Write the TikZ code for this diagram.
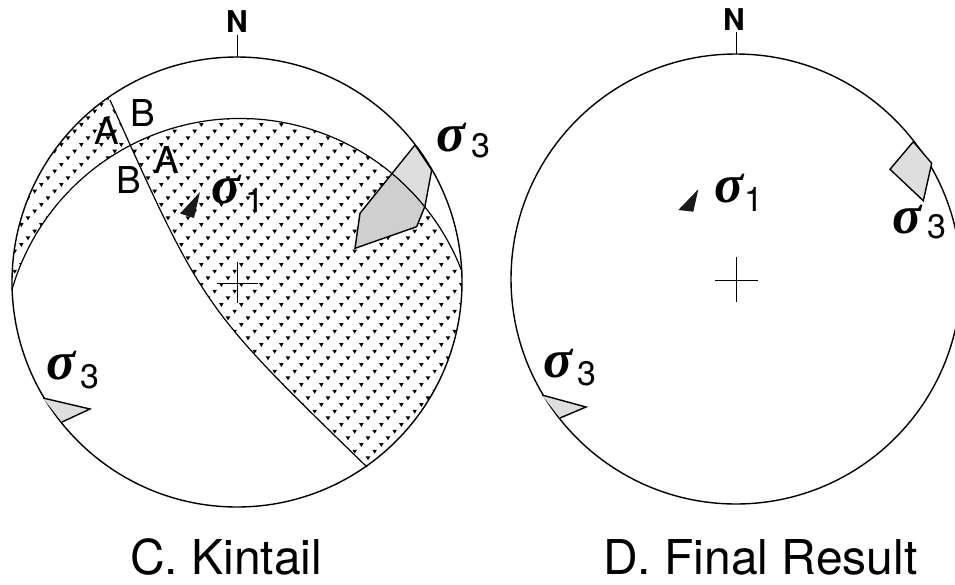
\documentclass[tikz,border=0pt]{standalone}
\usepackage{fontspec}
\setmainfont{TeX Gyre Heros}
\newfontfamily\sigfont{Liberation Serif}
\newcommand\stipplefield{%
 \foreach \j in {0,...,68}{%
  \foreach \i in {0,...,24}{%
   \pgfmathsetmacro\xx{\i*20-mod(\j,3)*6.667+8}%
   \pgfmathsetmacro\yy{58+\j*6.667}%
   \fill[shift={(\xx,\yy)}] (-2.3,-1.6) -- (2.3,-1.6) -- (0,2.3) -- cycle;
  }}}
\tikzset{
 prim/.style={line width=1.4pt},
 gcline/.style={line width=1.2pt},
 thin/.style={line width=0.9pt},
 lab/.style={inner sep=0pt, font=\fontsize{37}{40}\selectfont},
 nlab/.style={inner sep=0pt, font=\fontsize{30}{32}\selectfont\bfseries},
 sig/.style={inner sep=0pt, font=\sigfont\fontsize{54}{58}\selectfont\bfseries\itshape},
 subnum/.style={inner sep=0pt, font=\fontsize{34}{36}\selectfont},
 ttl/.style={inner sep=0pt, anchor=base west, font=\fontsize{48}{52}\selectfont},
 lightfill/.style={fill=black!13},
 midfill/.style={fill=black!19},
 darkfill/.style={fill=black!90},
}
\begin{document}
\begin{tikzpicture}[x=1pt,y=-1pt]
\useasboundingbox (0,0) rectangle (955,584);
\fill[white] (0,0) rectangle (955,584);
% ---------------- left net ----------------
\coordinate (cL) at (237,282);
\coordinate (topL) at (237,57);
\coordinate (g1a) at (110,100);
\coordinate (g1b) at (367,467);
\coordinate (g1c) at (203.3,308.2);
\coordinate (g2a) at (12,289.5);
\coordinate (g2b) at (462,271.6);
% stipple, NW crescent
\begin{scope}
 \clip (cL) circle (225);
 \clip (33,-10) -- (g1a) .. controls (g1c) .. (g1b) -- (444,577) -- (-30,577) -- (-30,-10) -- cycle;
 \clip (-20,289.5) -- (g2a) arc[start angle=196.26, end angle=339.2, radius=237.5] -- (520,271.6) -- (520,-20) -- (-20,-20) -- cycle;
 \stipplefield
\end{scope}
% stipple, main region
\begin{scope}
 \clip (cL) circle (225);
 \clip (33,-10) -- (g1a) .. controls (g1c) .. (g1b) -- (444,577) -- (900,577) -- (900,-10) -- cycle;
 \clip (-20,289.5) -- (g2a) arc[start angle=196.26, end angle=339.2, radius=237.5] -- (520,271.6) -- (520,600) -- (-20,600) -- cycle;
 \stipplefield
\end{scope}
% sigma3 polygon (left net)
\coordinate (q1) at (415,145);
\coordinate (q2) at (431.7,170);
\coordinate (q3) at (425,206);
\coordinate (q4) at (416.7,226.7);
\coordinate (q5) at (355,248.3);
\coordinate (q6) at (360,213.3);
\fill[lightfill] (q1) -- (q2) -- (q3) -- (q4) -- (q5) -- (q6) -- cycle;
\begin{scope}
 \clip (-20,289.5) -- (g2a) arc[start angle=196.26, end angle=339.2, radius=237.5] -- (520,271.6) -- (520,600) -- (-20,600) -- cycle;
 \fill[midfill] (q1) -- (q2) -- (q3) -- (q4) -- (q5) -- (q6) -- cycle;
\end{scope}
\draw[prim] (q1) -- (q2) -- (q3) -- (q4) -- (q5) -- (q6) -- cycle;
% great circles
\draw[gcline] (g1a) .. controls (g1c) .. (g1b);
\draw[gcline] (g2a) arc[start angle=196.26, end angle=339.2, radius=237.5];
% primitive, north tick, centre cross
\draw[prim] (cL) circle (225);
\node[nlab] (NL) at (237,21.5) {N};
\coordinate (tickL) at (237,35);
\draw[thin] (topL) -- (tickL);
\draw[thin] (217,283) -- (258,283);
\draw[thin] (237,262) -- (237,303);
% sigma1 (left)
\coordinate (t1) at (200,192);
\coordinate (t2) at (180,213.5);
\coordinate (t3) at (194,218);
\fill[darkfill] (t1) -- (t2) -- (t3) -- cycle;
% sigma3 lower-left (left)
\coordinate (u1) at (43,398);
\coordinate (u2) at (90,409);
\coordinate (u3) at (62,422);
\fill[lightfill] (u1) -- (u2) -- (u3) -- cycle;
\draw[prim] (u1) -- (u2) -- (u3);
% labels left
\node[lab] (A1) at (107,131) {A};
\node[lab] (B1) at (143,113) {B};
\node[lab] (B2) at (129,180) {B};
\node[lab] (A2) at (167,160) {A};
\node[sig] (s1L) at (226.5,190) {σ};
\node[subnum] (n1L) at (255,200.5) {1};
\node[sig] (s3La) at (451,137.5) {σ};
\node[subnum] (n3La) at (481,146) {3};
\node[sig] (s3Lb) at (61.5,366) {σ};
\node[subnum] (n3Lb) at (90,376.5) {3};
\node[ttl] (tL) at (130,574) {C. Kintail};
% ---------------- right net ----------------
\coordinate (cR) at (736,279);
\coordinate (topR) at (736,54);
\draw[prim] (cR) circle (225);
\node[nlab] (NR) at (734,20) {N};
\coordinate (tickR) at (736,32);
\draw[thin] (topR) -- (tickR);
\draw[thin] (715,280) -- (758,280);
\draw[thin] (736,257) -- (736,302);
% sigma1 (right)
\coordinate (r1) at (698.3,189.3);
\coordinate (r2) at (678.3,210);
\coordinate (r3) at (693.3,211.7);
\fill[darkfill] (r1) -- (r2) -- (r3) -- cycle;
% sigma3 upper right
\coordinate (v1) at (913.3,141.7);
\coordinate (v2) at (931.7,163.3);
\coordinate (v3) at (923.3,200.7);
\coordinate (v4) at (890,169.3);
\fill[lightfill] (v1) -- (v2) -- (v3) -- (v4) -- cycle;
\draw[prim] (v1) -- (v2) -- (v3) -- (v4) -- cycle;
% sigma3 lower left
\coordinate (w1) at (542,395);
\coordinate (w2) at (586,407);
\coordinate (w3) at (560,418);
\fill[lightfill] (w1) -- (w2) -- (w3) -- cycle;
\draw[prim] (w1) -- (w2) -- (w3);
% labels right
\node[sig] (s1R) at (729,189) {σ};
\node[subnum] (n1R) at (754,199) {1};
\node[sig] (s3Ra) at (907.5,220) {σ};
\node[subnum] (n3Ra) at (936.5,226.5) {3};
\node[sig] (s3Rb) at (558.5,364) {σ};
\node[subnum] (n3Rb) at (586.5,373.5) {3};
\node[ttl] (tR) at (603,574) {D. Final Result};
\end{tikzpicture}
\end{document}
